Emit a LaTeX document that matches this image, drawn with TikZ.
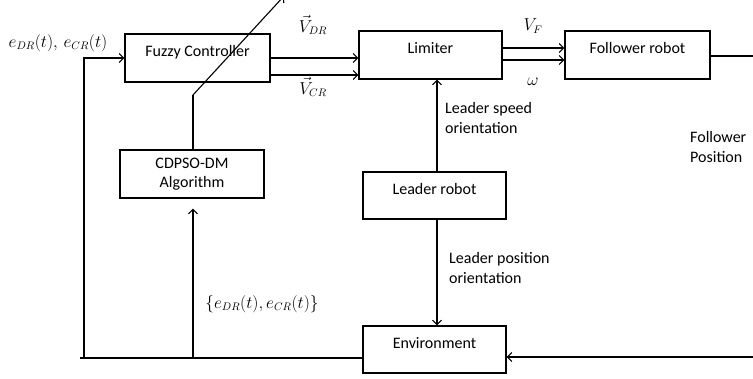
\documentclass[tikz,border=0pt]{standalone}
\usepackage{fontspec}
\setmainfont{Carlito}
\usetikzlibrary{arrows.meta,calc}
\begin{document}
\begin{tikzpicture}[x=1pt,y=-1pt,
  every node/.style={font=\fontsize{16}{20.5}\selectfont},
  box/.style={draw,line width=1.1pt,inner sep=0pt,minimum width=#1,align=center},
  topbox/.style={box=#1,minimum height=48,text height=10pt,text depth=13pt},
  arr/.style={line width=1.1pt,-{Straight Barb[length=4.5pt,width=9pt,line width=1.1pt]}},
  ln/.style={line width=1.1pt},
  lbl/.style={align=left,anchor=north west,inner sep=0pt}]
\useasboundingbox (0,0) rectangle (753,378);
% boxes
\node[topbox=145] (fuzzy) at (197.5,58) {Fuzzy Controller};
\node[topbox=143] (lim) at (430.5,55) {Limiter};
\node[topbox=145] (fol) at (637.5,55) {Follower robot};
\node[box=144,minimum height=48] (cdp) at (192,174) {CDPSO-DM\\[-2pt]Algorithm};
\node[topbox=143,minimum height=47] (lead) at (434.5,195.5) {Leader robot};
\node[topbox=143,minimum height=47] (env) at (434.5,349.5) {Environment};
% coordinates
\coordinate (bl) at (80,358);
\coordinate (fbx) at (84,358);
\coordinate (cbx) at (193,358);
\coordinate (d0) at (193,95);
\coordinate (d1) at (284,-4);
\coordinate (fr) at (753,56);
\coordinate (er) at (753,357);
% connectors
\draw[ln] ([yshift=-8.5pt]env.west) -- (bl);
\draw[arr] (fbx) -- (fbx |- fuzzy.west) -- (fuzzy.west);
\draw[arr] (cbx) -- ([yshift=-10pt]cdp.south -| cbx);
\draw[ln] (cdp.north -| d0) -- (d0);
\draw[arr] (d0) -- (d1);
\draw[arr] ([yshift=-17pt]fuzzy.east) -- ([yshift=-17pt]fuzzy.east -| lim.west);
\draw[arr] (fuzzy.east) -- (fuzzy.east -| lim.west);
\draw[arr] ([yshift=-5pt]lim.east) -- ([yshift=-5pt]fol.west);
\draw[arr] ([yshift=7pt]lim.east) -- ([yshift=7pt]fol.west);
\draw[ln] (fol.east |- fr) -- (fr);
\draw[arr] (er) -- (env.east |- er);
\draw[arr] ([xshift=2.5pt]lead.north) -- ([xshift=2.5pt]lead.north |- lim.south);
\draw[arr] ([xshift=2.5pt]lead.south) -- ([xshift=2.5pt]lead.south |- env.north);
% labels
\node (le) at (58,43) {$e_{DR}(t),\,e_{CR}(t)$};
\node[inner sep=1pt] (vdr) at (313,25) {$\vec{V}_{DR}$};
\node[inner sep=1pt] (vcr) at (313,87) {$\vec{V}_{CR}$};
\node (vf) at (533,26) {$V_F$};
\node (om) at (533,82) {$\omega$};
\node[lbl] (ls) at (445,102) {Leader speed\\orientation};
\node[lbl] (fp) at (690,131) {Follower\\Position};
\node[lbl] (lp) at (449,252) {Leader position\\orientation};
\node (ee) at (262,304) {$\{e_{DR}(t),e_{CR}(t)\}$};
\end{tikzpicture}
\end{document}
